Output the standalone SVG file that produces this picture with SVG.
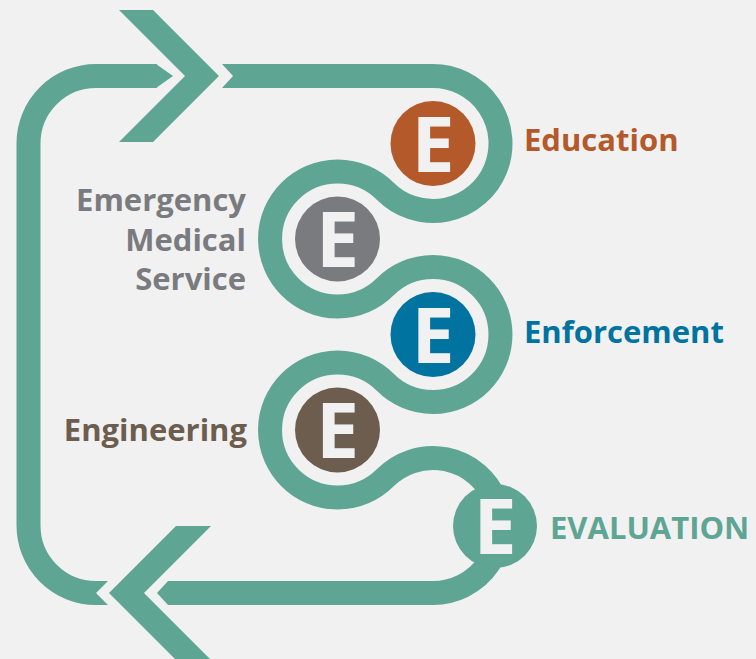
<svg xmlns="http://www.w3.org/2000/svg" width="756" height="659" viewBox="0 0 756 659">
<style>
.band{fill:none;stroke:#5FA594;stroke-width:24;stroke-linecap:butt}
.bandfill{fill:#5FA594}
.lbl{font-family:"Open Sans","DejaVu Sans",sans-serif;font-weight:700;font-size:31px}
.big{font-family:"Open Sans","DejaVu Sans",sans-serif;font-weight:700;font-size:77px;fill:#F1F1F1;text-anchor:middle}
</style>
<rect width="756" height="659" fill="#F1F1F1"/>
<g id="connectors">
<path class="band" d="M157 76 H96 A67.5 67.5 0 0 0 28.5 143.5 V525.5 A67.5 67.5 0 0 0 96 593"/>
<polygon class="bandfill" points="156,64 173,76 156,88"/>
<polygon class="bandfill" points="95,581 108,581 96,593 108,605 95,605"/>
<polygon class="bandfill" points="119,10 153,10 219,76 153,142 119,142 185,76"/>
<polygon class="bandfill" points="222,64 434,64 434,88 222,88 233,76"/>
<path class="band" d="M433 76 A67.5 67.5 0 1 1 385.27 191.23 A67.5 67.5 0 1 0 385.23 286.73 A67.5 67.5 0 1 1 385.27 382.23 A67.5 67.5 0 1 0 385.23 477.73 A67.5 67.5 0 1 1 433 593"/>
<polygon class="bandfill" points="157,593 168,581 434,581 434,605 168,605"/>
<polygon class="bandfill" points="176,526 211,526 144,593 211,660 176,660 109,593"/>
</g>
<g id="education">
<circle cx="433" cy="143.5" r="42.5" fill="#B4592A"/>
<text class="big" x="433" y="172">E</text>
<text class="lbl" x="524" y="151" fill="#B4592A">Education</text>
</g>
<g id="ems">
<circle cx="337.5" cy="239" r="42.5" fill="#7A7B7F"/>
<text class="big" x="337.5" y="267">E</text>
<text class="lbl" text-anchor="end" fill="#7A7B7F"><tspan x="246" y="211">Emergency</tspan><tspan x="246" y="251">Medical</tspan><tspan x="246" y="290">Service</tspan></text>
</g>
<g id="enforcement">
<circle cx="433" cy="334.5" r="42.5" fill="#0073A0"/>
<text class="big" x="433" y="362.5">E</text>
<text class="lbl" x="524" y="343" fill="#0073A0">Enforcement</text>
</g>
<g id="engineering">
<circle cx="337.5" cy="430" r="42.5" fill="#6C5D4F"/>
<text class="big" x="337.5" y="458">E</text>
<text class="lbl" x="247" y="441" text-anchor="end" fill="#6C5D4F">Engineering</text>
</g>
<g id="evaluation">
<circle cx="495" cy="526" r="42" fill="#5FA594"/>
<text class="big" x="495" y="554">E</text>
<text class="lbl" x="550" y="539" fill="#5FA594">EVALUATION</text>
</g>
</svg>
